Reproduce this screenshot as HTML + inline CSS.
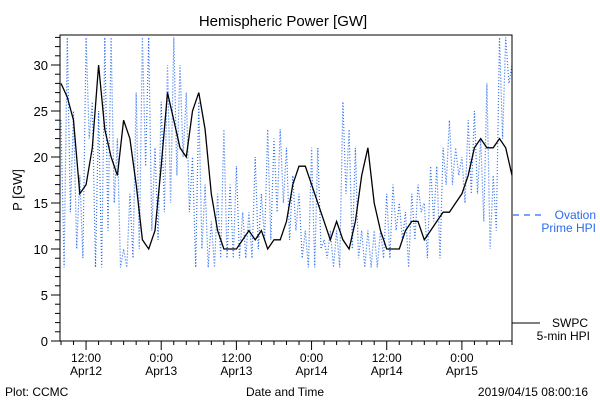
<!DOCTYPE html>
<html><head><meta charset="utf-8"><style>
body{margin:0;background:#fff}
svg{display:block;font-family:"Liberation Sans",sans-serif}
</style></head><body>
<svg id="chart" width="600" height="400" viewBox="0 0 600 400" xmlns="http://www.w3.org/2000/svg">
<rect width="600" height="400" fill="#fff"/>
<text x="283" y="26" font-size="15" text-anchor="middle">Hemispheric Power [GW]</text>
<text x="22" y="190" font-size="13" text-anchor="middle" transform="rotate(-90 22 190)">P [GW]</text>
<g id="ticks"></g>
<g id="series"></g>
<rect x="60" y="35" width="452" height="306" fill="none" stroke="#000" stroke-width="1"/>
<line x1="513" y1="215" x2="541" y2="215" stroke="#2a6bf0" stroke-width="1.2" stroke-dasharray="6 5"/>
<text x="596" y="219" font-size="12" fill="#2a6bf0" text-anchor="end">Ovation</text>
<text x="596" y="232" font-size="12" fill="#2a6bf0" text-anchor="end">Prime HPI</text>
<line x1="512" y1="323" x2="540" y2="323" stroke="#000" stroke-width="1"/>
<text x="588" y="327" font-size="12" text-anchor="end">SWPC</text>
<text x="590" y="340" font-size="12" text-anchor="end">5-min HPI</text>
<text x="5" y="396" font-size="12">Plot: CCMC</text>
<text x="285" y="396" font-size="12" text-anchor="middle">Date and Time</text>
<text x="588" y="396" font-size="12" text-anchor="end">2019/04/15 08:00:16</text>
</svg>
<script>
const swpcValues=[28,26.5,24,16,17,21,30,23,20,18,24,22,17,11,10,12,19,27,24,21,20,25,27,23,16,12,10,10,10,11,12,11,12,10,11,11,13,17,19,19,17,15,13,11,13,11,10,13,18,21,15,12,10,10,10,12,13,13,11,12,13,14,14,15,16,18,21,22,21,21,22,21,18];
const ovationHigh=[24,33,25,18,33,26,25,33,33,22,10,16,27,33,33,21,26,30,33,30,27,20,26,17,13,16,23,17,19,14,14,20,16,23,22,23,21,18,16,12,21,21,11,12,12,26,23,21,12,12,12,12,16,17,15,14,16,17,15,19,19,21,24,21,20,24,25,22,28,18,33,33,30];
const ovationLow=[8,14,10,9,22,8,8,12,15,8,8,9,10,19,12,11,14,15,18,20,14,8,10,8,8,9,9,9,9,9,9,10,11,11,14,15,11,12,9,8,8,10,9,8,8,16,10,9,8,8,8,9,9,12,11,8,11,14,9,13,9,17,17,18,15,16,16,13,10,12,22,28,30];
const yTicks=[0,5,10,15,20,25,30];
const xTickHours=[4,16,28,40,52,64];
const xTickTimes=["12:00","0:00","12:00","0:00","12:00","0:00"];
const xTickDates=["Apr12","Apr13","Apr13","Apr14","Apr14","Apr15"];

const X0=60,X1=512,Y0=341,Y1=35,HOURS=72,YMAX=33.26;
const xs=h=>X0+1+(X1-X0-1)*h/HOURS;
const ys=v=>Y0-(Y0-Y1)*v/YMAX;
const NS="http://www.w3.org/2000/svg";
const tg=document.getElementById('ticks'),sg=document.getElementById('series');
function mk(tag,attrs,parent){const e=document.createElementNS(NS,tag);for(const k in attrs)e.setAttribute(k,attrs[k]);parent.appendChild(e);return e;}

for(let v=0;v<=33;v++){
  const major=v%5===0;
  const t=mk('line',{x1:X0-(major?9:5),x2:X0,y1:ys(v),y2:ys(v),stroke:'#000'},tg);
  
  
}
yTicks.forEach(v=>{
  const t=mk('text',{x:X0-12,y:ys(v)+5,'font-size':13,'text-anchor':'end'},tg);
  t.textContent=v;
  
  
});
for(let h=0;h<=HOURS;h+=2){
  const major=xTickHours.indexOf(h)>=0;
  const t=mk('line',{x1:xs(h),x2:xs(h),y1:Y0,y2:Y0+(major?9:4),stroke:'#000'},tg);
  
  
}
xTickHours.forEach((h,i)=>{
  const a=mk('text',{x:xs(h),y:362,'font-size':12,'text-anchor':'middle'},tg);
  a.textContent=xTickTimes[i];
  
  
  const b=mk('text',{x:xs(h),y:375,'font-size':12,'text-anchor':'middle'},tg);
  b.textContent=xTickDates[i];
  
  
});

// Ovation dotted series
let pts=[];
ovationHigh.forEach((v,i)=>{
  pts.push(xs(i).toFixed(1)+','+ys(v).toFixed(1));
  if(i<HOURS)pts.push(xs(i+0.5).toFixed(1)+','+ys(ovationLow[i]).toFixed(1));
});
const ov=mk('polyline',{points:pts.join(' '),fill:'none',stroke:'#2a6bf0','stroke-width':1.2,'stroke-dasharray':'1 2'},sg);



// SWPC series
let sp=[];
swpcValues.forEach((v,i)=>{
  sp.push(xs(i).toFixed(1)+','+ys(v).toFixed(1));
});
const sw=mk('polyline',{points:sp.join(' '),fill:'none',stroke:'#000','stroke-width':1.3},sg);


</script>
</body></html>
